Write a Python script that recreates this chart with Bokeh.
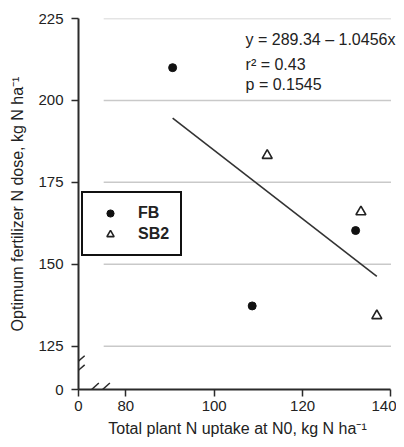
from bokeh.plotting import figure
from bokeh.models import (Range1d, FixedTicker, Label, Legend, LegendItem, Arrow)
from bokeh.embed import file_html
from bokeh.resources import INLINE

# ---------------- data ----------------
fb_x = [90.6, 108.6, 132.0]
fb_y = [210.0, 137.3, 160.3]
sb2_x = [112.0, 133.2, 136.8]
sb2_y = [183.2, 166.0, 134.3]

fit_x = [90.6, 136.8]
fit_y = [194.6, 146.3]

x_ticks = [80, 100, 120, 140]
y_ticks = [125, 150, 175, 200, 225]

fit_text = ["y = 289.34 \u2013 1.0456x", "r\u00b2 = 0.43", "p = 0.1545"]

x_label = "Total plant N uptake at N0, kg N ha\u207b\u00b9"
y_label = "Optimum fertilizer N dose, kg N ha\u207b\u00b9"

# broken-axis positions for the "0" tick
X_ZERO = 69.3
Y_ZERO = 111.8
X_END = 140

FONT = "Liberation Sans"
DARK = "#2b2b2b"

p = figure(width=396, height=439, output_backend="svg", toolbar_location=None,
           x_range=Range1d(X_ZERO, 141.25), y_range=Range1d(Y_ZERO, 225),
           min_border_left=78, min_border_right=0, min_border_top=18, min_border_bottom=50)
p.outline_line_color = None
p.grid.visible = False
p.background_fill_color = "white"

# gridlines (partial)
p.segment(x0=[75] * len(y_ticks), x1=[X_END] * len(y_ticks), y0=y_ticks, y1=y_ticks,
          line_color="#c9c9c9", line_width=1.5)

# axes
p.xaxis.ticker = FixedTicker(ticks=[X_ZERO] + x_ticks)
p.xaxis.major_label_overrides = {X_ZERO: "0"}
p.xaxis.bounds = (X_ZERO, X_END)
p.yaxis.ticker = FixedTicker(ticks=[Y_ZERO] + y_ticks)
p.yaxis.major_label_overrides = {Y_ZERO: "0"}
for ax in (p.xaxis, p.yaxis):
    ax.axis_line_color = DARK
    ax.axis_line_width = 2
    ax.major_tick_line_color = DARK
    ax.major_tick_line_width = 1.5
    ax.major_tick_in = 0
    ax.major_tick_out = 7
    ax.minor_tick_line_color = None
    ax.major_label_text_font = FONT
    ax.major_label_text_font_size = "15px"
    ax.major_label_text_color = "#222222"
    ax.axis_label_text_font = FONT
    ax.axis_label_text_font_size = "16px"
    ax.axis_label_text_font_style = "normal"
    ax.axis_label_text_color = "#222222"
p.xaxis.axis_label = x_label
p.yaxis.axis_label = y_label
p.xaxis.major_label_standoff = 4
p.xaxis.axis_label_standoff = 6
p.yaxis.major_label_standoff = 8
p.yaxis.axis_label_standoff = 9

# axis break marks (annotations so they are not clipped)
for (xs, ys, xe, ye) in [(67.4, 118.3, 70.7, 122.1), (67.4, 115.5, 70.7, 119.3),
                         (70.95, 110.15, 73.9, 113.8), (73.4, 110.15, 76.4, 113.8)]:
    p.add_layout(Arrow(end=None, x_start=xs, y_start=ys, x_end=xe, y_end=ye,
                       line_color=DARK, line_width=1.5))

# regression line
p.line(fit_x, fit_y, line_color="#333333", line_width=1.6)

# points
r_fb = p.scatter(fb_x, fb_y, marker="circle", size=8, fill_color="#111111",
                 line_color="#111111")
r_sb2 = p.scatter(sb2_x, sb2_y, marker="triangle", size=10, fill_color="white",
                  line_color="#222222", line_width=1.6)

legend = Legend(items=[LegendItem(label="FB", renderers=[r_fb]),
                       LegendItem(label="SB2", renderers=[r_sb2])],
                location=(3, 133), glyph_width=32, glyph_height=18, label_height=18,
                label_standoff=12, padding=11, spacing=3,
                label_text_font=FONT, label_text_font_size="16px",
                label_text_font_style="bold", label_text_color="#222222",
                border_line_color="#111111", border_line_width=2, border_line_alpha=1,
                background_fill_color="white", background_fill_alpha=1)
p.add_layout(legend, "center")

# fit statistics
for txt, yb in zip(fit_text, [218.6, 211.0, 204.9]):
    p.add_layout(Label(x=107.1, y=yb, text=txt, text_font=FONT, text_font_size="16px",
                       text_color="#222222", text_baseline="alphabetic"))

open("out.html", "w").write(file_html(p, INLINE))
